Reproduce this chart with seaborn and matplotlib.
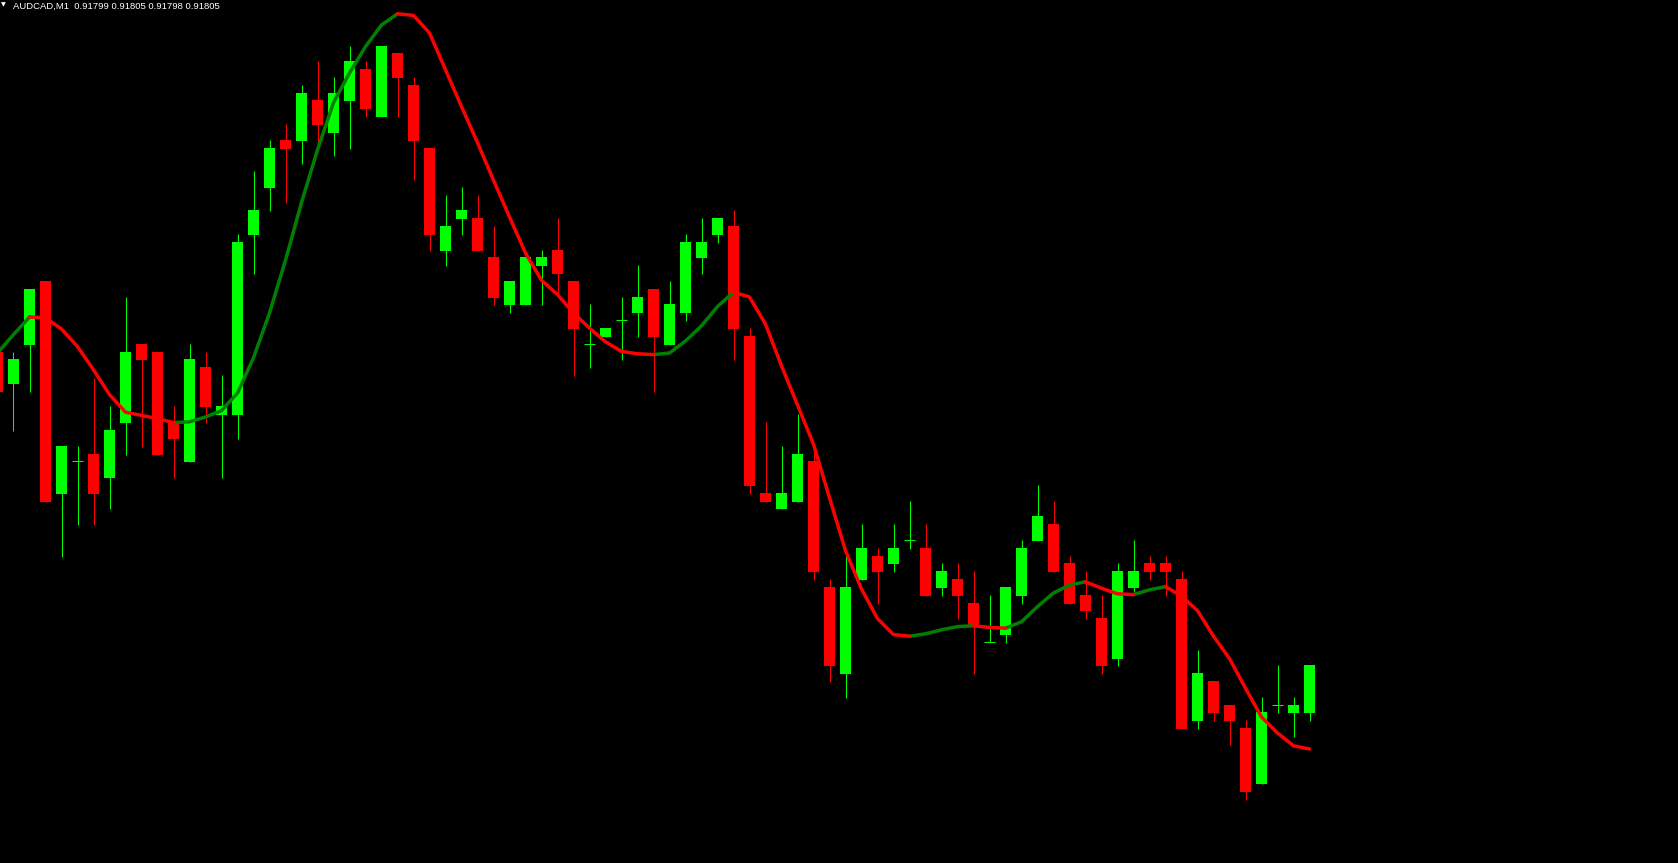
import numpy as np
import pandas as pd
import matplotlib
matplotlib.use("Agg")
import matplotlib.pyplot as plt
import seaborn as sns

symbol = "AUDCAD"
timeframe = "M1"

opens = [0.918441, 0.918401, 0.918450, 0.918530, 0.918264, 0.918305, 0.918314, 0.918284, 0.918353, 0.918451,
         0.918441, 0.918354, 0.918304, 0.918423, 0.918363, 0.918363, 0.918588, 0.918646, 0.918706, 0.918705,
         0.918756, 0.918715, 0.918755, 0.918795, 0.918735, 0.918815, 0.918775, 0.918696, 0.918568, 0.918608,
         0.918609, 0.918560, 0.918500, 0.918500, 0.918549, 0.918569, 0.918530, 0.918451, 0.918460, 0.918481,
         0.918490, 0.918520, 0.918450, 0.918490, 0.918559, 0.918588, 0.918599, 0.918461, 0.918265, 0.918245,
         0.918254, 0.918305, 0.918148, 0.918039, 0.918156, 0.918186, 0.918176, 0.918206, 0.918196, 0.918146,
         0.918158, 0.918128, 0.918079, 0.918088, 0.918136, 0.918205, 0.918226, 0.918178, 0.918138, 0.918109,
         0.918058, 0.918146, 0.918178, 0.918178, 0.918158, 0.917980, 0.918030, 0.918000, 0.917971, 0.917901,
         0.918000, 0.917990, 0.917990]
highs = [0.918441, 0.918441, 0.918520, 0.918530, 0.918324, 0.918324, 0.918409, 0.918374, 0.918510, 0.918451,
         0.918441, 0.918374, 0.918451, 0.918441, 0.918413, 0.918589, 0.918668, 0.918706, 0.918726, 0.918775,
         0.918805, 0.918785, 0.918824, 0.918805, 0.918824, 0.918815, 0.918785, 0.918696, 0.918638, 0.918648,
         0.918638, 0.918599, 0.918530, 0.918560, 0.918569, 0.918609, 0.918530, 0.918501, 0.918471, 0.918510,
         0.918550, 0.918520, 0.918530, 0.918589, 0.918609, 0.918609, 0.918619, 0.918471, 0.918354, 0.918324,
         0.918364, 0.918325, 0.918158, 0.918186, 0.918226, 0.918196, 0.918226, 0.918255, 0.918226, 0.918178,
         0.918178, 0.918168, 0.918138, 0.918148, 0.918206, 0.918275, 0.918255, 0.918186, 0.918168, 0.918138,
         0.918178, 0.918206, 0.918186, 0.918186, 0.918168, 0.918069, 0.918030, 0.918000, 0.917981, 0.918010,
         0.918050, 0.918010, 0.918050]
lows = [0.918391, 0.918343, 0.918391, 0.918254, 0.918185, 0.918225, 0.918225, 0.918245, 0.918313, 0.918323,
        0.918313, 0.918284, 0.918304, 0.918353, 0.918284, 0.918333, 0.918539, 0.918618, 0.918628, 0.918676,
        0.918695, 0.918686, 0.918695, 0.918735, 0.918735, 0.918735, 0.918656, 0.918568, 0.918549, 0.918588,
        0.918568, 0.918500, 0.918490, 0.918500, 0.918500, 0.918510, 0.918411, 0.918421, 0.918460, 0.918431,
        0.918460, 0.918391, 0.918450, 0.918480, 0.918539, 0.918578, 0.918431, 0.918264, 0.918254, 0.918245,
        0.918254, 0.918156, 0.918029, 0.918009, 0.918156, 0.918126, 0.918166, 0.918195, 0.918136, 0.918136,
        0.918108, 0.918039, 0.918079, 0.918078, 0.918126, 0.918205, 0.918166, 0.918126, 0.918108, 0.918039,
        0.918049, 0.918141, 0.918156, 0.918136, 0.917970, 0.917970, 0.917980, 0.917950, 0.917881, 0.917901,
        0.917990, 0.917960, 0.917980]
closes = [0.918391, 0.918433, 0.918520, 0.918254, 0.918324, 0.918305, 0.918264, 0.918344, 0.918441, 0.918431,
          0.918313, 0.918333, 0.918433, 0.918373, 0.918374, 0.918579, 0.918619, 0.918696, 0.918695, 0.918765,
          0.918725, 0.918765, 0.918805, 0.918745, 0.918824, 0.918784, 0.918705, 0.918588, 0.918599, 0.918619,
          0.918568, 0.918509, 0.918530, 0.918560, 0.918560, 0.918539, 0.918470, 0.918451, 0.918471, 0.918481,
          0.918510, 0.918460, 0.918501, 0.918579, 0.918579, 0.918609, 0.918470, 0.918274, 0.918254, 0.918265,
          0.918314, 0.918166, 0.918049, 0.918148, 0.918196, 0.918166, 0.918196, 0.918206, 0.918136, 0.918168,
          0.918136, 0.918098, 0.918079, 0.918148, 0.918196, 0.918236, 0.918166, 0.918126, 0.918118, 0.918049,
          0.918168, 0.918168, 0.918166, 0.918166, 0.917970, 0.918040, 0.917990, 0.917980, 0.917891, 0.917991,
          0.918000, 0.918000, 0.918050]
ma_values = [0.918440, 0.918463, 0.918485, 0.918484, 0.918470, 0.918448, 0.918419, 0.918388, 0.918366, 0.918362,
             0.918358, 0.918353, 0.918354, 0.918360, 0.918368, 0.918390, 0.918434, 0.918490, 0.918556, 0.918628,
             0.918694, 0.918753, 0.918790, 0.918823, 0.918850, 0.918864, 0.918862, 0.918840, 0.918794, 0.918748,
             0.918703, 0.918656, 0.918610, 0.918565, 0.918531, 0.918513, 0.918490, 0.918471, 0.918454, 0.918442,
             0.918439, 0.918438, 0.918440, 0.918455, 0.918474, 0.918498, 0.918516, 0.918510, 0.918476, 0.918424,
             0.918375, 0.918326, 0.918259, 0.918193, 0.918145, 0.918108, 0.918088, 0.918086, 0.918089, 0.918094,
             0.918098, 0.918099, 0.918097, 0.918096, 0.918104, 0.918123, 0.918140, 0.918150, 0.918154, 0.918146,
             0.918139, 0.918138, 0.918144, 0.918148, 0.918136, 0.918118, 0.918086, 0.918058, 0.918021, 0.917985,
             0.917965, 0.917949, 0.917945]

BULL = "#00ff00"
BEAR = "#ff0000"
MA_UP = "#008000"
MA_DOWN = "#ff0000"

sns.set_style("dark", {"axes.facecolor": "black", "figure.facecolor": "black"})

W, H = 1678, 863
fig = plt.figure(figsize=(W / 100, H / 100), dpi=100)
fig.patch.set_facecolor("black")
ax = fig.add_axes([0, 0, 1, 1])
ax.set_facecolor("black")

o = np.array(opens)
h = np.array(highs)
l = np.array(lows)
c = np.array(closes)
n = len(o)
x = np.arange(n) - 1  # first bar is partially off-screen
up = c >= o
cols = np.where(up, BULL, BEAR)

ax.vlines(x, l, h, colors=cols, linewidth=0.75, zorder=2)
ax.bar(x, c - o, bottom=o, width=0.69, color=cols, linewidth=0, zorder=3)
doji = np.isclose(o, c)
ax.hlines(o[doji], x[doji] - 0.345, x[doji] + 0.345, colors=BULL, linewidth=0.75, zorder=3)

# MA line coloured by direction
ma = np.array(ma_values)
rows = []
run = 0
prev_dir = None
for j in range(n - 1):
    d = "up" if ma[j + 1] > ma[j] else "down"
    if d != prev_dir:
        run += 1
        rows.append({"x": x[j], "y": ma[j], "run": run, "trend": d})
        prev_dir = d
    rows.append({"x": x[j + 1], "y": ma[j + 1], "run": run, "trend": d})
df = pd.DataFrame(rows)
sns.lineplot(data=df, x="x", y="y", hue="trend", units="run", estimator=None,
             palette={"up": MA_UP, "down": MA_DOWN}, linewidth=2.5, legend=False,
             sort=False, ax=ax, zorder=4)

ax.set_xlim(-13.5 / 16, (W - 13.5) / 16)
ax.set_ylim(0.9178025, 0.91888125)
ax.axis("off")

title = f"{symbol},{timeframe}  {opens[-1]:.5f} {highs[-1]:.5f} {lows[-1]:.5f} {closes[-1]:.5f}"
fig.text(13 / W, 1 - 1.5 / H, title, ha="left", va="top", color="white",
         fontsize=6.8, family="Liberation Sans")
fig.text(1 / W, 1 - 2.5 / H, "\u25BC", ha="left", va="top", color="white",
         fontsize=4.5, family="DejaVu Sans")

fig.savefig("out.png", dpi=100, facecolor="black")
